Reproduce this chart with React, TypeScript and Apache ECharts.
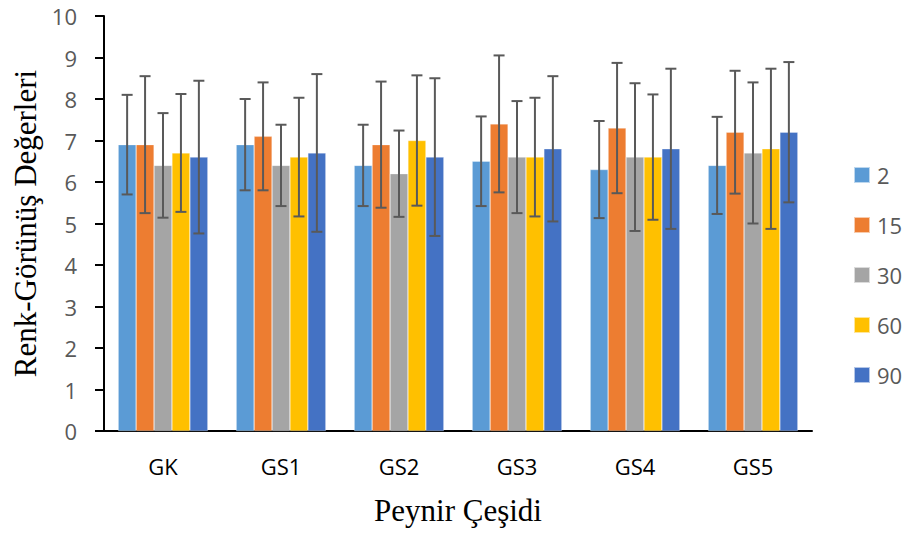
import React, { useEffect, useRef } from "react";
import * as echarts from "echarts";

const categories = ["GK", "GS1", "GS2", "GS3", "GS4", "GS5"];
const seriesNames = ["2", "15", "30", "60", "90"];
const colors = ["#5B9BD5", "#ED7D31", "#A5A5A5", "#FFC000", "#4472C4"];

const mean2 = [6.9, 6.9, 6.4, 6.5, 6.3, 6.4];
const mean15 = [6.9, 7.1, 6.9, 7.4, 7.3, 7.2];
const mean30 = [6.4, 6.4, 6.2, 6.6, 6.6, 6.7];
const mean60 = [6.7, 6.6, 7.0, 6.6, 6.6, 6.8];
const mean90 = [6.6, 6.7, 6.6, 6.8, 6.8, 7.2];

const sd2 = [1.2, 1.1, 0.98, 1.08, 1.17, 1.17];
const sd15 = [1.65, 1.3, 1.52, 1.65, 1.57, 1.48];
const sd30 = [1.26, 0.98, 1.04, 1.35, 1.78, 1.7];
const sd60 = [1.42, 1.43, 1.57, 1.43, 1.51, 1.93];
const sd90 = [1.84, 1.9, 1.9, 1.75, 1.93, 1.69];

const yTicks = [0, 1, 2, 3, 4, 5, 6, 7, 8, 9, 10];

const means = [mean2, mean15, mean30, mean60, mean90];
const sds = [sd2, sd15, sd30, sd60, sd90];

const CAT_GAP = 0.24;

export default function App() {
  const ref = useRef<HTMLDivElement>(null);
  useEffect(() => {
    if (!ref.current) return;
    const chart = echarts.init(ref.current, undefined, { renderer: "svg" });

    const errData: number[][] = [];
    means.forEach((m, s) => {
      m.forEach((v, c) => {
        errData.push([c, v - sds[s][c], v + sds[s][c], s]);
      });
    });

    const barSeries = seriesNames.map((name, i) => ({
      name,
      type: "bar",
      data: means[i],
      barGap: "0%",
      barCategoryGap: CAT_GAP * 100 + "%",
      itemStyle: { color: colors[i], borderColor: "rgba(255,255,255,0.6)", borderWidth: 0.5 },
    }));

    const errSeries = {
      type: "custom",
      name: "err",
      z: 10,
      data: errData,
      encode: { x: 0, y: [1, 2] },
      renderItem: (params: any, api: any) => {
        const cat = api.value(0);
        const lo = api.value(1);
        const hi = api.value(2);
        const s = api.value(3);
        const catW = api.size([1, 0])[0];
        const bw = (catW * (1 - CAT_GAP)) / 5;
        const xc = api.coord([cat, 0])[0] + (s - 2) * bw;
        const yT = api.coord([cat, hi])[1];
        const yB = api.coord([cat, lo])[1];
        const cap = 5.5;
        const st = { stroke: "#595959", lineWidth: 2 };
        return {
          type: "group",
          children: [
            { type: "line", shape: { x1: xc, y1: yT, x2: xc, y2: yB }, style: st },
            { type: "line", shape: { x1: xc - cap, y1: yT, x2: xc + cap, y2: yT }, style: st },
            { type: "line", shape: { x1: xc - cap, y1: yB, x2: xc + cap, y2: yB }, style: st },
          ],
        };
      },
    };

    chart.setOption({
      animation: false,
      backgroundColor: "#ffffff",
      grid: { left: 104, right: 95, top: 16, bottom: 106, containLabel: false },
      legend: {
        orient: "vertical",
        left: 848,
        top: 159,
        itemWidth: 16,
        itemHeight: 16,
        itemGap: 28,
        icon: "rect",
        data: seriesNames,
        textStyle: { fontSize: 22, color: "#595959", fontFamily: "Open Sans", padding: [0, 0, 0, 2] },
      },
      xAxis: {
        type: "category",
        data: categories,
        axisLine: { lineStyle: { color: "#000000", width: 2 } },
        axisTick: { show: false },
        axisLabel: { fontSize: 22, color: "#000000", fontFamily: "Open Sans", margin: 24 },
        name: "Peynir Çeşidi",
        nameLocation: "middle",
        nameGap: 64,
        nameTextStyle: { fontSize: 31, color: "#000000", fontFamily: "Liberation Serif" },
      },
      yAxis: {
        type: "value",
        min: 0,
        max: 10,
        interval: 1,
        splitLine: { show: false },
        axisLine: { show: true, lineStyle: { color: "#000000", width: 2 } },
        axisTick: { show: true, length: 9, lineStyle: { color: "#000000", width: 2 } },
        axisLabel: {
          fontSize: 22,
          color: "#595959",
          fontFamily: "Open Sans",
          margin: 27,
          formatter: (v: number) => (yTicks.includes(v) ? String(v) : ""),
        },
        name: "Renk-Görünüş Değerleri",
        nameLocation: "middle",
        nameGap: 60,
        nameTextStyle: { fontSize: 31, color: "#000000", fontFamily: "Liberation Serif" },
      },
      series: [...barSeries, errSeries],
    });
    return () => chart.dispose();
  }, []);
  return (
    <div
      ref={ref}
      style={{ position: "fixed", left: 0, top: 0, width: 907, height: 537 }}
    />
  );
}
